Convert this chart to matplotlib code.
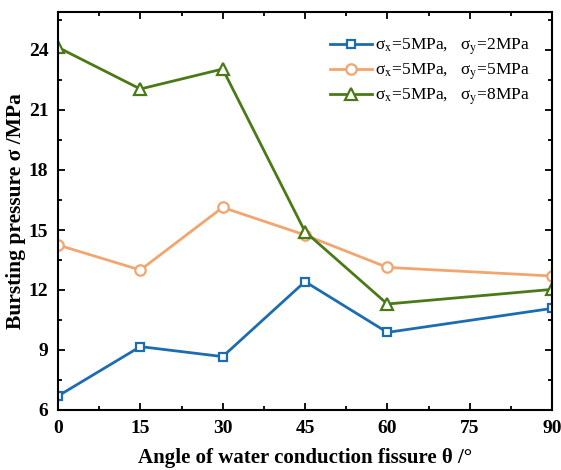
import matplotlib.pyplot as plt
from matplotlib.ticker import MultipleLocator

plt.rcParams['font.family'] = ['Liberation Serif', 'Noto Sans CJK SC']
plt.rcParams['mathtext.fontset'] = 'stix'

# angle of the water conduction fissure (degrees)
angles = [0, 15, 30, 45, 60, 90]

# bursting pressure (MPa) for each lateral stress case
p_sy2 = [6.7, 9.17, 8.67, 12.42, 9.88, 11.08]
p_sy5 = [14.25, 13.0, 16.13, 14.75, 13.13, 12.7]
p_sy8 = [24.13, 22.05, 23.05, 14.92, 11.3, 12.03]

labels = [r'σ$_{\mathrm{x}}$=5MPa,   σ$_{\mathrm{y}}$=2MPa',
          r'σ$_{\mathrm{x}}$=5MPa,   σ$_{\mathrm{y}}$=5MPa',
          r'σ$_{\mathrm{x}}$=5MPa,   σ$_{\mathrm{y}}$=8MPa']

fig = plt.figure(figsize=(5.61, 4.70), dpi=100)
ax = fig.add_axes([58 / 561, 60 / 470, 494 / 561, 398 / 470])

ax.plot(angles, p_sy2, color='#1c6db0', lw=2.0, marker='s', ms=6,
        mfc='white', mew=1.6, label=labels[0])
ax.plot(angles, p_sy5, color='#f2a56e', lw=2.0, marker='o', ms=7.5,
        mfc='white', mew=1.6, label=labels[1])
ax.plot(angles, p_sy8, color='#4a7a18', lw=2.0, marker='^', ms=8,
        mfc='white', mew=1.6, label=labels[2])

ax.set_xlim(0, 90)
ax.set_ylim(6, 25.9)
ax.xaxis.set_major_locator(MultipleLocator(15))
ax.xaxis.set_minor_locator(MultipleLocator(7.5))
ax.yaxis.set_major_locator(MultipleLocator(3))
ax.yaxis.set_minor_locator(MultipleLocator(1.5))
ax.tick_params(which='both', direction='in', top=True, right=True, width=1.3)
ax.tick_params(which='major', length=5, labelsize=14, pad=7)
ax.tick_params(which='minor', length=3)
for lab in ax.get_xticklabels() + ax.get_yticklabels():
    lab.set_fontweight('bold')
for sp in ax.spines.values():
    sp.set_linewidth(1.5)

ax.set_xlabel('Angle of water conduction fissure θ /°', fontsize=15,
              fontweight='bold', labelpad=8)
ax.set_ylabel('Bursting pressure σ /MPa', fontsize=15.5,
              fontweight='bold', labelpad=2)

ax.legend(loc='upper right', frameon=False, fontsize=12.5, handlelength=2.4,
          borderaxespad=1.2, labelspacing=0.25, handletextpad=0.2,
          bbox_to_anchor=(1.012, 1.008))

fig.savefig('out.png', dpi=100)
